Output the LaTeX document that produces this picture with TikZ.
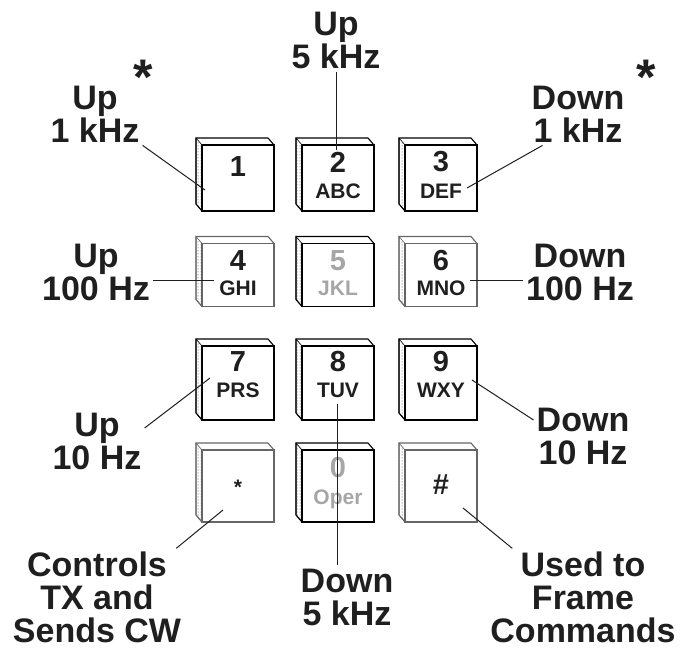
\documentclass[tikz,border=0pt]{standalone}
\usepackage{fontspec}
\setmainfont{Liberation Sans}
\usetikzlibrary{patterns}
\newcommand\kp[5]{% name, cx, cy, h, outline colour
  \node[keyface=#5, minimum height=#4pt] (#1) at (#2,#3) {};
  \draw[draw=#5, line width=0.6pt, pattern=dots, pattern color=black!75]
    (#1.north west) -- ++(-6,-7) -- ([shift={(-6,-7)}]#1.south west) -- (#1.south west) -- cycle;
  \draw[draw=#5, line width=1.1pt, line join=round]
    (#1.south west) -- ++(-6,-7) -- ([shift={(-6,-7)}]#1.north west)
    -- ([shift={(-6,-7)}]#1.north east) -- (#1.north east);
}
\begin{document}
\begin{tikzpicture}[x=1pt,y=-1pt,
  lbl/.style={font=\fontsize{34}{33}\selectfont\bfseries, align=center, inner sep=3pt, text=black!88},
  astx/.style={font=\fontsize{50}{50}\selectfont\bfseries, inner sep=0pt, anchor=north, text=black!88},
  keyface/.style={draw=#1, line width=1.1pt, fill=white, minimum width=72pt, inner sep=0pt, outer sep=0pt},
  keyface/.default=black,
  keydig/.style={font=\fontsize{29}{29}\selectfont\bfseries, inner sep=0pt, text=black!88},
  keylet/.style={font=\fontsize{21}{21}\selectfont\bfseries, inner sep=0pt, text=black!88},
  keyfaded/.style={text=black!35},
  conn/.style={line width=1pt, draw=black!88},
  ]
\useasboundingbox[fill=white] (0,0) rectangle (684,650);

% ---------- keys ----------
\kp{k1}{238}{178}{66}{black}
\kp{k2}{338}{178}{66}{black}
\kp{k3}{441}{178}{66}{black}
\kp{k4}{238}{275}{63}{black!60}
\kp{k5}{338}{275}{63}{black}
\kp{k6}{441}{275}{63}{black!60}
\kp{k7}{238}{383}{74}{black}
\kp{k8}{338}{383}{74}{black}
\kp{k9}{441}{383}{74}{black}
\kp{kst}{238}{486}{72}{black!60}
\kp{k0}{338}{486}{72}{black}
\kp{khs}{441}{486}{72}{black!60}

% ---------- key texts ----------
\node[keydig] (t1) at (238,167) {1};
\node[keydig] (t2) at (338,162) {2};
\node[keylet] (t2l) at (338,191) {ABC};
\node[keydig] (t3) at (441,162) {3};
\node[keylet] (t3l) at (441,191) {DEF};
\node[keydig] (t4) at (238,261) {4};
\node[keylet] (t4l) at (238,288) {GHI};
\node[keydig,keyfaded] (t5) at (338,261) {5};
\node[keylet,keyfaded] (t5l) at (338,288) {JKL};
\node[keydig] (t6) at (441,261) {6};
\node[keylet] (t6l) at (441,288) {MNO};
\node[keydig] (t7) at (238,362) {7};
\node[keylet] (t7l) at (238,390) {PRS};
\node[keydig] (t8) at (338,362) {8};
\node[keylet] (t8l) at (338,390) {TUV};
\node[keydig] (t9) at (441,362) {9};
\node[keylet] (t9l) at (441,390) {WXY};
\node[keylet] (tst) at (238,487) {*};
\node[keydig,keyfaded] (t0) at (338,468) {0};
\node[keylet,keyfaded,anchor=base] (t0l) at (338,504) {Oper};
\node[keydig] (ths) at (441,485) {\#};

% ---------- labels ----------
\node[lbl] (L1) at (95,114) {Up\\1 kHz};
\node[astx] (A1) at (143,60) {*};
\node[lbl] (L2) at (336,40) {Up\\5 kHz};
\node[lbl] (L3) at (578,114) {Down\\1 kHz};
\node[astx] (A3) at (646,60) {*};
\node[lbl] (L4) at (96,272) {Up\\100 Hz};
\node[lbl] (L6) at (580,272) {Down\\100 Hz};
\node[lbl] (L7) at (97,441) {Up\\10 Hz};
\node[lbl] (L9) at (583,436) {Down\\10 Hz};
\node[lbl] (Lst) at (97,597) {Controls\\TX and\\Sends CW};
\node[lbl] (L8) at (347,597) {Down\\5 kHz};
\node[lbl] (Lhs) at (583,597) {Used to\\Frame\\Commands};

% ---------- connector ends inside keys ----------
\coordinate (e1) at (205,190);
\coordinate (e2) at (336,150);
\coordinate (e3) at (467,188);
\coordinate (e4) at (214,280);
\coordinate (e6) at (470,280);
\coordinate (e7) at (210,378);
\coordinate (e9) at (472,380);
\coordinate (e8) at (337,404);
\coordinate (est) at (223,510);
\coordinate (ehs) at (463,508);

% ---------- connectors ----------
\draw[conn] (L1.south east) -- (e1);
\draw[conn] (L2.south) -- (e2);
\draw[conn] ([xshift=14pt]L3.south west) -- (e3);
\draw[conn] (e4 -| L4.east) -- (e4);
\draw[conn] (e6) -- (e6 -| L6.west);
\draw[conn] ([yshift=13pt]L7.east) -- (e7);
\draw[conn] (e9) -- ([yshift=16pt]L9.west);
\draw[conn] (e8) -- (e8 |- L8.north);
\draw[conn] ([xshift=-8pt]Lst.north east) -- (est);
\draw[conn] (ehs) -- ([xshift=25pt]Lhs.north west);
\end{tikzpicture}
\end{document}
